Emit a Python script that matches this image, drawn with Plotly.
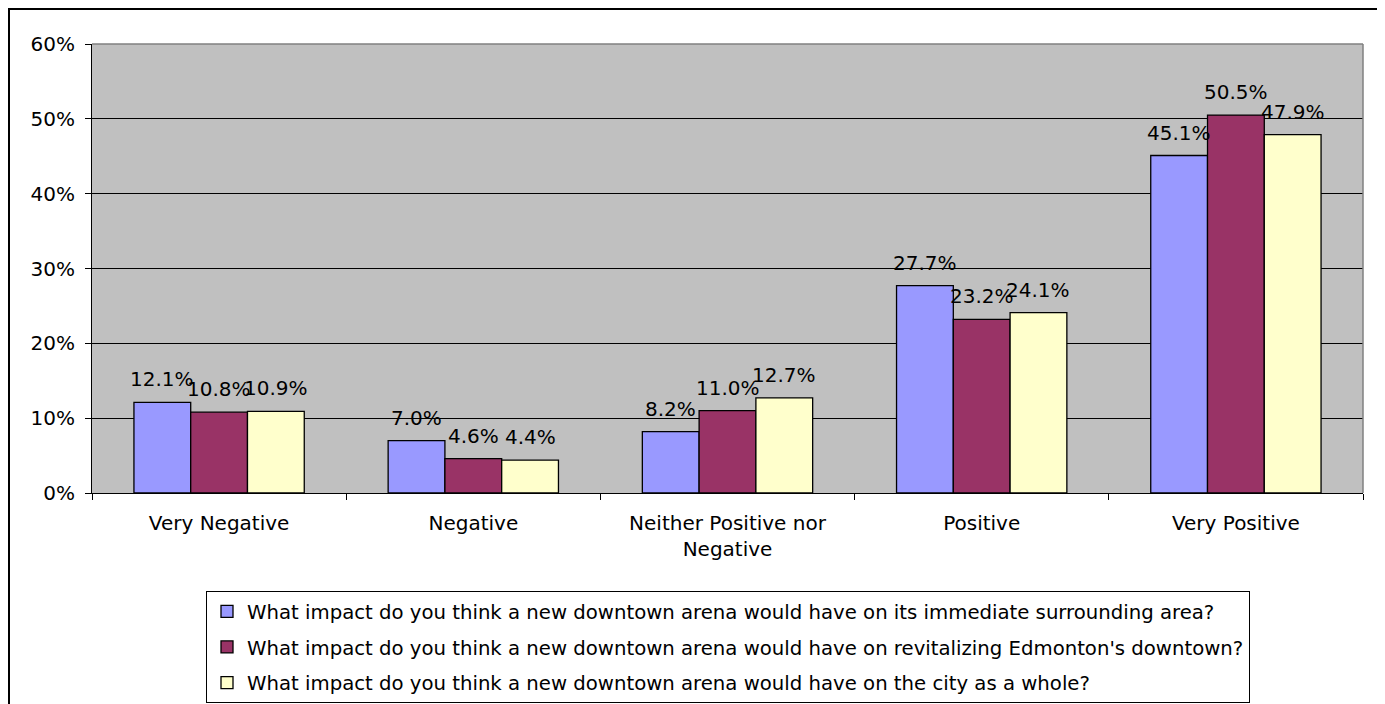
import plotly.graph_objects as go

categories = ["Very Negative", "Negative", "Neither Positive nor<br>Negative", "Positive", "Very Positive"]
series_names = [
    "What impact do you think a new downtown arena would have on its immediate surrounding area?",
    "What impact do you think a new downtown arena would have on revitalizing Edmonton's downtown?",
    "What impact do you think a new downtown arena would have on the city as a whole?",
]
surrounding = [0.121, 0.070, 0.082, 0.277, 0.451]
revitalizing = [0.108, 0.046, 0.110, 0.232, 0.505]
city_whole = [0.109, 0.044, 0.127, 0.241, 0.479]
colors = ["#9999FF", "#993366", "#FFFFCC"]

FONT = "DejaVu Sans"
FS = 20
BARGAP = 0.33
# page offset of the figure (browser default body margin)
OFF = 8
W, H = 1385 - OFF, 704 - OFF
# desired page-pixel plot area
PL, PR, PT, PB = 92, 1363, 44, 493
L, T = PL - OFF, PT - OFF
R = 1385 - PR
B = 704 - PB
pw, ph = PR - PL, PB - PT

all_series = [surrounding, revitalizing, city_whole]
n_series = len(all_series)
bar_w = pw / len(categories) * (1 - BARGAP) / n_series

fig = go.Figure()
annotations = []
for i, (name, vals) in enumerate(zip(series_names, all_series)):
    fig.add_trace(go.Bar(
        x=categories, y=vals, name=name, legendgroup=f"g{i}",
        marker=dict(color=colors[i], line=dict(color="black", width=1.3)),
        cliponaxis=False,
    ))
    shift = (i - (n_series - 1) / 2) * bar_w
    for c, v in zip(categories, vals):
        annotations.append(dict(
            x=c, y=v, xref="x", yref="y", text=f"{v * 100:.1f}%",
            showarrow=False, xanchor="center", yanchor="bottom",
            xshift=shift, yshift=9,
            font=dict(family=FONT, size=FS, color="black"),
        ))

def px_x(p):
    return (p - PL) / pw

def px_y(p):
    return (PB - p) / ph

fig.update_layout(
    width=W, height=H,
    margin=dict(l=L, r=R, t=T, b=B, autoexpand=False),
    paper_bgcolor="white", plot_bgcolor="#C0C0C0",
    barmode="group", bargap=BARGAP, bargroupgap=0,
    font=dict(family=FONT, size=FS, color="black"),
    showlegend=True,
    legend=dict(
        x=px_x(206), y=px_y(591), xanchor="left", yanchor="top",
        bordercolor="black", borderwidth=1, bgcolor="white",
        font=dict(family=FONT, size=FS - 0.3, color="black"),
        tracegroupgap=7, traceorder="grouped", itemwidth=30,
    ),
    xaxis=dict(
        showline=True, linecolor="black", linewidth=1,
        ticks="outside", tickson="boundaries", ticklen=6, tickcolor="black",
        ticklabelstandoff=12,
        showgrid=False, tickfont=dict(family=FONT, size=FS, color="black"),
    ),
    yaxis=dict(
        range=[0, 0.6], dtick=0.1, tickformat=".0%",
        showline=True, linecolor="black", linewidth=1,
        ticks="outside", ticklen=6, tickcolor="black",
        ticklabelstandoff=6,
        showgrid=True, gridcolor="black", gridwidth=1,
        zeroline=False, tickfont=dict(family=FONT, size=FS, color="black"),
    ),
    annotations=annotations,
    shapes=[
        dict(type="line", xref="paper", yref="paper", x0=0, x1=1, y0=1, y1=1,
             line=dict(color="#808080", width=1.5), layer="above"),
        dict(type="line", xref="paper", yref="paper", x0=1, x1=1, y0=0, y1=1,
             line=dict(color="#808080", width=1.5), layer="above"),
        dict(type="rect", xref="paper", yref="paper",
             x0=px_x(9), x1=px_x(1379), y0=px_y(712), y1=px_y(9),
             line=dict(color="black", width=2), layer="below"),
    ],
)

fig.write_html("out.html")
